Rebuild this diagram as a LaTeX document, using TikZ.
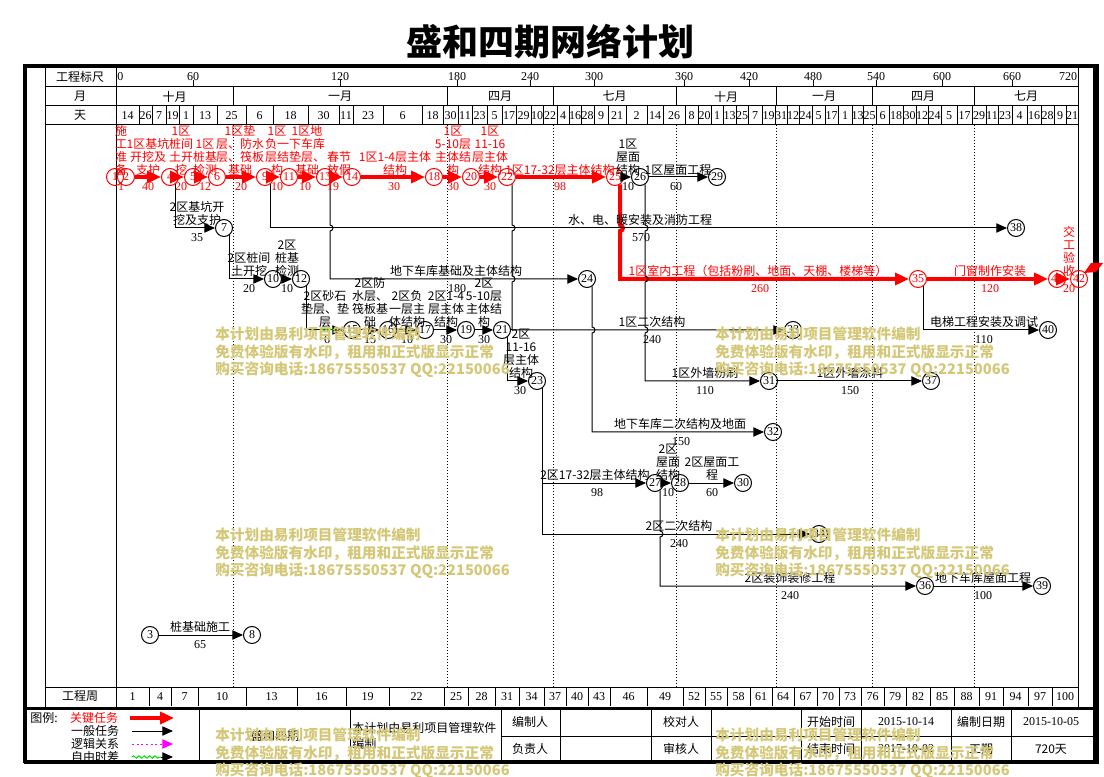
\documentclass[tikz,border=0pt]{standalone}
\usepackage{fontspec}
\setmainfont{Noto Sans CJK SC}
\newfontfamily\numf{Liberation Serif}
\usetikzlibrary{arrows.meta,decorations.pathmorphing}
\definecolor{wmcol}{RGB}{212,200,120}
\definecolor{pred}{RGB}{255,0,0}
\definecolor{pmag}{RGB}{255,0,255}
\definecolor{pgreen}{RGB}{0,230,0}
\tikzset{
 evt/.style={circle,draw=black,line width=0.75pt,minimum size=12.75pt,inner sep=0pt,font=\numf\fontsize{9}{9}\selectfont},
 evtr/.style={evt,draw=pred,text=pred},
 genarr/.style={draw=black,line width=0.75pt,-{Triangle[length=8pt,width=7pt]}},
 critarr/.style={draw=pred,line width=3pt,-{Triangle[length=10.5pt,width=9pt]}},
 lab/.style={anchor=south,inner sep=0pt,align=center,font=\fontsize{9}{9.75}\selectfont},
 labr/.style={lab,text=pred},
 dura/.style={anchor=north,inner sep=0pt,font=\numf\fontsize{9}{10}\selectfont},
 durar/.style={dura,text=pred},
 hdrt/.style={inner sep=0pt,font=\fontsize{9}{10}\selectfont},
 numt/.style={inner sep=0pt,font=\numf\fontsize{9}{10}\selectfont},
 wmk/.style={anchor=west,inner sep=0pt,text=wmcol,font=\bfseries\fontsize{11}{12}\selectfont},
 gridln/.style={line width=0.75pt},
 dotln/.style={line width=0.6pt,dash pattern=on 0.75pt off 1.5pt},
}
\begin{document}
\begin{tikzpicture}[x=0.75pt,y=-0.75pt]
\useasboundingbox (0,0) rectangle (1104,777);
\fill[white] (0,0) rectangle (1104,777);

% title
\node[font=\bfseries\fontsize{27}{30}\selectfont] (title) at (550,42) {盛和四期网络计划};

% ---------- grid ----------
\draw[gridln] (45,66) -- (45,708);
\draw[gridln] (116,66) -- (116,708);
\draw[gridln] (1078,66) -- (1078,708);
\foreach \yy in {87,106,125,687} \draw[gridln] (45,\yy) -- (1078,\yy);

\node[hdrt] (h1) at (80,77) {工程标尺};
\node[hdrt] (h2) at (80,96.5) {月};
\node[hdrt] (h3) at (80,115.5) {天};
\node[hdrt] (h4) at (80,696.5) {工程周};

% scale
\node[numt,anchor=west] (s0) at (117,77) {0};
\foreach \x/\t in {193/60,340/120,457/180,530/240,594/300,684/360,749/420,813/480,876/540,942/600,1012/660}{
  \draw[gridln] (\x,80) -- (\x,87);
  \node[numt] (s\t) at (\x,76.5) {\t};
}
\node[numt] (s720) at (1068,76.5) {720};

% months
\foreach \a/\b/\t [count=\i] in {116/233/十月,233/447/一月,447/553/四月,553/676/七月,676/776/十月,776/872/一月,872/974/四月,974/1078/七月}{
  \draw[gridln] (\b,87) -- (\b,106);
  \node[hdrt] (m\i) at ({(\a+\b)/2},96.5) {\t};
}

% days
\foreach \a/\b/\t [count=\i] in {116/139/14,139/152/26,152/166/7,166/179/19,179/193/1,193/217/13,217/246/25,246/273/6,273/308/18,308/339/30,339/353/11,353/383/23,383/422/6,422/443/18,443/458/30,458/472/11,472/487/23,487/502/5,502/516/17,516/531/29,531/543/10,543/557/22,557/569/4,569/581/16,581/594/28,594/608/9,608/626/21,626/647/2,647/663/14,663/685/26,685/698/8,698/711/20,711/723/1,723/736/13,736/748/25,748/762/7,762/775/19,775/787/31,787/799/12,799/812/24,812/825/5,825/838/17,838/852/1,852/863/13,863/876/25,876/889/6,889/903/18,903/916/30,916/928/12,928/941/24,941/957/5,957/972/17,972/986/29,986/998/11,998/1012/23,1012/1027/4,1027/1041/16,1041/1054/28,1054/1066/9,1066/1078/21}{
  \draw[gridln] (\b,106) -- (\b,125);
  \node[numt] (d\i) at ({(\a+\b)/2},116) {\t};
}

% weeks
\foreach \a/\b/\t [count=\i] in {116/149/1,149/171/4,171/198/7,198/246/10,246/297/13,297/346/16,346/389/19,389/444/22,444/468/25,468/495/28,495/519/31,519/544/34,544/566/37,566/588/40,588/610/43,610/647/46,647/683/49,683/705/52,705/727/55,727/750/58,750/772/61,772/794/64,794/817/67,817/839/70,839/861/73,861/884/76,884/906/79,906/930/82,930/954/85,954/979/88,979/1003/91,1003/1028/94,1028/1052/97,1052/1078/100}{
  \draw[gridln] (\b,687) -- (\b,706);
  \node[numt] (w\i) at ({(\a+\b)/2},697) {\t};
}

% dotted month lines
\foreach \x in {233,447,553,676,776,872,974} \draw[dotln] (\x,125) -- (\x,687);

% ---------- events ----------
\node[evtr] (n1) at (115,177) {1};
\node[evtr] (n2) at (126,177) {2};
\node[evtr] (n4) at (170,177) {4};
\node[evtr] (n5) at (193,177) {5};
\node[evtr] (n6) at (217,177) {6};
\node[evtr] (n9) at (265,177) {9};
\node[evtr] (n11) at (289,177) {11};
\node[evtr] (n13) at (325,177) {13};
\node[evtr] (n14) at (352,177) {14};
\node[evtr] (n18) at (434,177) {18};
\node[evtr] (n20) at (471,177) {20};
\node[evtr] (n22) at (507,177) {22};
\node[evtr] (n25) at (615,177) {25};
\node[evt] (n26) at (640,177) {26};
\node[evt] (n29) at (717,177) {29};
\node[evt] (n7) at (224,228) {7};
\node[evt] (n38) at (1016,228) {38};
\node[evt] (n10) at (273,279) {10};
\node[evt] (n12) at (301,279) {12};
\node[evt] (n24) at (587,279) {24};
\node[evtr] (n35) at (918,279) {35};
\node[evtr] (n41) at (1057,279) {41};
\node[evtr] (n42) at (1079,279) {42};
\node[evt] (n15) at (352,330) {15};
\node[evt] (n16) at (388,330) {16};
\node[evt] (n17) at (425,330) {17};
\node[evt] (n19) at (466,330) {19};
\node[evt] (n21) at (502,330) {21};
\node[evt] (n33) at (793,330) {33};
\node[evt] (n40) at (1048,330) {40};
\node[evt] (n23) at (537,381) {23};
\node[evt] (n31) at (769,381) {31};
\node[evt] (n37) at (931,381) {37};
\node[evt] (n32) at (773,432) {32};
\node[evt] (n27) at (655,483) {27};
\node[evt] (n28) at (680,483) {28};
\node[evt] (n30) at (743,483) {30};
\node[evt] (n34) at (819,534) {34};
\node[evt] (n36) at (925,586) {36};
\node[evt] (n39) at (1042,586) {39};
\node[evt] (n3) at (150,635) {3};
\node[evt] (n8) at (252,635) {8};
\coordinate (j21) at (512,330);
\coordinate (j23) at (542,483);

% ---------- connectors ----------
\draw[critarr] (n2) -- (n4);
\draw[critarr] (n4) -- (n5);
\draw[critarr] (n5) -- (n6);
\draw[critarr] (n6) -- (n9);
\draw[critarr] (n9) -- (n11);
\draw[critarr] (n11) -- (n13);
\draw[critarr] (n13) -- (n14);
\draw[critarr] (n14) -- (n18);
\draw[critarr] (n18) -- (n20);
\draw[critarr] (n20) -- (n22);
\draw[critarr] (n22) -- (n25);
\draw[critarr] (n25.-55) -- (620,225) arc(-90:90:3) |- (n35);
\draw[critarr] (n35) -- (n41);
\draw[critarr] (n41) -- (n42);

\draw[genarr] (n25) -- (n26);
\draw[genarr] (n26) -- (n29);
\draw[genarr] (n4.-55) |- (n7);
\draw[genarr] (n9.-55) |- (n38);
\draw[genarr] (n7.-55) |- (n10);
\draw[genarr] (n10) -- (n12);
\draw[genarr] (n13.-55) -- (330,225) arc(-90:90:3) |- (n24);
\draw[genarr] (n12.-55) |- (n15);
\draw[genarr] (n15) -- (n16);
\draw[genarr] (n16) -- (n17);
\draw[genarr] (n17) -- (n19);
\draw[genarr] (n19) -- (n21);
\draw[genarr] (n22.-55) -- (512,225) arc(-90:90:3) -- (512,276) arc(-90:90:3) |- (n33);
\draw[gridln] (n21) -- (j21);
\draw[genarr] (n21.-55) |- (n23);
\draw[genarr] (n26.-55) -- (645,225) arc(-90:90:3) -- (645,276) arc(-90:90:3) -- (645,327) arc(-90:90:3) |- (n31);
\draw[genarr] (n31) -- (n37);
\draw[genarr] (n24.-55) -- (592,327) arc(-90:90:3) |- (n32);
\draw[genarr] (n35.-55) |- (n40);
\draw[genarr] (n23.-55) |- (n34);
\draw[genarr] (j23) -- (n27);
\draw[genarr] (n27) -- (n28);
\draw[genarr] (n28) -- (n30);
\draw[genarr] (n27.-55) -- (660,531) arc(-90:90:3) |- (n36);
\draw[genarr] (n36) -- (n39);
\draw[genarr] (n3) -- (n8);
\coordinate (ff1) at (321,330);
\coordinate (ff2) at (333,330);
\draw[pgreen,line width=0.6pt,decorate,decoration={snake,amplitude=0.8pt,segment length=3pt}] (ff1) -- (ff2);

% ---------- labels ----------
\node[labr] (t1) at (121,175.5) {施\\工\\准\\备};
\node[labr] (t2) at (148,175.5) {1区基坑\\开挖及\\支护};
\node[labr] (t4) at (181,175.5) {1区\\桩间\\土开\\挖};
\node[labr] (t5) at (205,175.5) {1区\\桩基\\检测};
\node[labr] (t6) at (240,175.5) {1区垫\\层、防水\\层、筏板\\基础};
\node[labr] (t9) at (277,175.5) {1区\\负一\\层结\\构};
\node[labr] (t11) at (307,175.5) {1区地\\下车库\\垫层、\\基础};
\node[labr] (t13) at (339,175.5) {春节\\放假};
\node[labr] (t14) at (395,175.5) {1区1-4层主体\\结构};
\node[labr] (t18) at (453,175.5) {1区\\5-10层\\主体结\\构};
\node[labr] (t20) at (490,175.5) {1区\\11-16\\层主体\\结构};
\node[labr] (t22) at (560,175.5) {1区17-32层主体结构};
\node[lab] (t25) at (628,175.5) {1区\\屋面\\结构};
\node[lab] (t26) at (678,175.5) {1区屋面工程};
\node[durar] (u1) at (121,182) {1};
\node[durar] (u2) at (148,182) {40};
\node[durar] (u4) at (181,182) {20};
\node[durar] (u5) at (205,182) {12};
\node[durar] (u6) at (241,182) {20};
\node[durar] (u9) at (277,182) {10};
\node[durar] (u11) at (305,182) {10};
\node[durar] (u13) at (333,182) {19};
\node[durar] (u14) at (394,182) {30};
\node[durar] (u18) at (453,182) {30};
\node[durar] (u20) at (490,182) {30};
\node[durar] (u22) at (560,182) {98};
\node[dura] (u25) at (628,182) {10};
\node[dura] (u26) at (676,182) {60};

\node[lab] (t47) at (197,226) {2区基坑开\\挖及支护};
\node[dura] (u47) at (197,233) {35};
\node[lab] (t938) at (640,226) {水、电、暖安装及消防工程};
\node[dura] (u938) at (641,233) {570};

\node[lab] (t710) at (249,277) {2区桩间\\土开挖};
\node[dura] (u710) at (249,284) {20};
\node[lab] (t1012) at (287,277) {2区\\桩基\\检测};
\node[dura] (u1012) at (287,284) {10};
\node[lab] (t1324) at (456,277) {地下车库基础及主体结构};
\node[dura] (u1324) at (457,284) {180};
\node[labr] (t2535) at (758,277) {1区室内工程（包括粉刷、地面、天棚、楼梯等）};
\node[durar] (u2535) at (760,284) {260};
\node[labr] (t3541) at (990,277) {门窗制作安装};
\node[durar] (u3541) at (990,284) {120};
\node[labr] (t4142) at (1069,277) {交\\工\\验\\收};
\node[durar] (u4142) at (1069,284) {20};

\node[lab] (t1215) at (325,328) {2区砂石\\垫层、垫\\层};
\node[dura] (u1215) at (327,335) {6};
\node[lab] (t1516) at (370,328) {2区防\\水层、\\筏板基\\础};
\node[dura] (u1516) at (370,335) {15};
\node[lab] (t1617) at (407,328) {2区负\\一层主\\体结构};
\node[dura] (u1617) at (407,335) {10};
\node[lab] (t1719) at (446,328) {2区1-4\\层主体\\结构};
\node[dura] (u1719) at (446,335) {30};
\node[lab] (t1921) at (484,328) {2区\\5-10层\\主体结\\构};
\node[dura] (u1921) at (484,335) {30};
\node[lab] (t2233) at (652,328) {1区二次结构};
\node[dura] (u2233) at (652,335) {240};
\node[lab] (t3540) at (984,328) {电梯工程安装及调试};
\node[dura] (u3540) at (984,335) {110};

\node[lab] (t2123) at (521,379) {2区\\11-16\\层主体\\结构};
\node[dura] (u2123) at (520,386) {30};
\node[lab] (t2631) at (705,379) {1区外墙粉刷};
\node[dura] (u2631) at (705,386) {110};
\node[lab] (t3137) at (850,379) {1区外墙涂料};
\node[dura] (u3137) at (850,386) {150};

\node[lab] (t2432) at (680,430) {地下车库二次结构及地面};
\node[dura] (u2432) at (681,437) {150};

\node[lab] (t2327) at (595,481) {2区17-32层主体结构};
\node[dura] (u2327) at (597,488) {98};
\node[lab] (t2728) at (668,481) {2区\\屋面\\结构};
\node[dura] (u2728) at (668,488) {10};
\node[lab] (t2830) at (712,481) {2区屋面工\\程};
\node[dura] (u2830) at (712,488) {60};

\node[lab] (t2334) at (679,532) {2区二次结构};
\node[dura] (u2334) at (679,539) {240};

\node[lab] (t2736) at (790,584) {2区装饰装修工程};
\node[dura] (u2736) at (790,591) {240};
\node[lab] (t3639) at (983,584) {地下车库屋面工程};
\node[dura] (u3639) at (983,591) {100};

\node[lab] (t38) at (200,633) {桩基础施工};
\node[dura] (u38) at (200,640) {65};

% ---------- legend ----------
\node[hdrt,anchor=west] (lg0) at (30,718) {图例:};
\node[hdrt,text=pred] (lgt1) at (94,718) {关键任务};
\node[hdrt] (lgt2) at (95,731) {一般任务};
\node[hdrt] (lgt3) at (95,744) {逻辑关系};
\node[hdrt] (lgt4) at (95,757) {自由时差};
\coordinate (lg1a) at (130,718); \coordinate (lg1b) at (174,718);
\coordinate (lg2a) at (132,731); \coordinate (lg2b) at (173,731);
\coordinate (lg3a) at (132,744); \coordinate (lg3b) at (173,744);
\coordinate (lg4a) at (132,757); \coordinate (lg4m) at (161,757); \coordinate (lg4b) at (173,757);
\draw[critarr] (lg1a) -- (lg1b);
\draw[genarr] (lg2a) -- (lg2b);
\draw[color=pmag,line width=0.75pt,dash pattern=on 1.5pt off 2pt,-{Triangle[length=8pt,width=7pt]}] (lg3a) -- (lg3b);
\draw[pgreen,line width=0.75pt,decorate,decoration={snake,amplitude=0.9pt,segment length=4pt}] (lg4a) -- (lg4m);
\draw[genarr] (lg4m) -- (lg4b);

\foreach \x in {199,350,501,560,651,711,801,861,951,1011} \draw[gridln] (\x,708) -- (\x,762);
\draw[gridln] (501,736) -- (1096,736);
\node[hdrt] (c1) at (275,736) {盛和四期};
\node[anchor=west,inner sep=0pt,align=left,font=\fontsize{9}{12}\selectfont] (c2) at (352,736) {本计划由易利项目管理软件\\编制};
\node[hdrt] (c3) at (530,722) {编制人};
\node[hdrt] (c4) at (530,749) {负责人};
\node[hdrt] (c5) at (681,722) {校对人};
\node[hdrt] (c6) at (681,749) {审核人};
\node[hdrt] (c7) at (831,722) {开始时间};
\node[hdrt] (c8) at (831,749) {结束时间};
\node[numt] (c9) at (906,722) {2015-10-14};
\node[numt] (c10) at (906,749) {2017-10-02};
\node[hdrt] (c11) at (981,722) {编制日期};
\node[hdrt] (c12) at (981,749) {工期};
\node[numt] (c13) at (1051,722) {2015-10-05};
\node[hdrt] (c14) at (1051,749) {720天};

% ---------- outer frame ----------
\draw[line width=2.25pt] (25,708) -- (1096,708);
\draw[line width=3pt] (23.5,66) -- (1099,66);
\draw[line width=3pt] (25,64.5) -- (25,763);
\draw[line width=3pt] (23.5,761.5) -- (1099,761.5);
\draw[line width=4.5pt] (1096,64.5) -- (1096,763);

% finish flag
\fill[pred] (1084,273) -- (1091,263) -- (1103,263) -- (1096,272) -- cycle;

% ---------- watermark ----------
\foreach \wx/\wy [count=\i] in {215/334,715/334,215/535,715/535,215/735,715/735}{
  \node[wmk] (wa\i) at (\wx,\wy) {本计划由易利项目管理软件编制};
  \node[wmk] (wb\i) at (\wx,\wy+18) {免费体验版有水印，租用和正式版显示正常};
  \node[wmk] (wc\i) at (\wx,\wy+36) {购买咨询电话:18675550537 QQ:22150066};
}
\end{tikzpicture}
\end{document}
